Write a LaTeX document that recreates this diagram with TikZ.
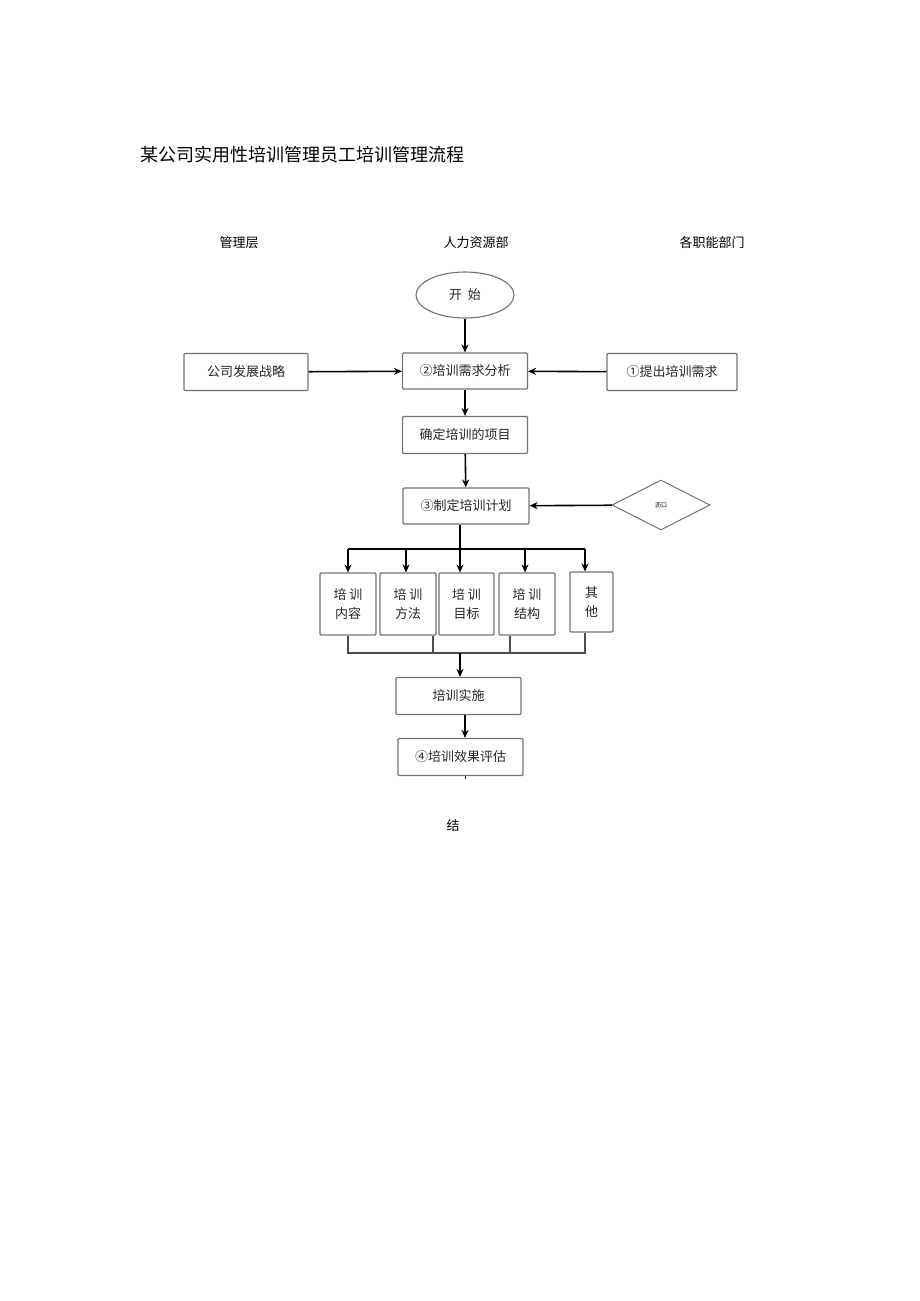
\documentclass[tikz,border=0pt]{standalone}
\usepackage{fontspec}
\setmainfont{Noto Sans CJK SC}
\usetikzlibrary{shapes.geometric,arrows.meta}
\begin{document}
\begin{tikzpicture}[x=1pt,y=-1pt,
  bx/.style={draw=black!55,line width=1.1pt,rounded corners=1pt,inner sep=0pt,font=\fontsize{13}{15}\selectfont,text=black!85},
  ar/.style={line width=1.6pt,-{Stealth[length=8pt,width=7pt]}},
  ln/.style={line width=1.6pt},
  lb/.style={font=\fontsize{13}{15}\selectfont}]
\useasboundingbox (0,0) rectangle (920,1301);
\node[anchor=west,font=\fontsize{18}{20}\selectfont] (title) at (137,155) {某公司实用性培训管理员工培训管理流程};
\node[lb] (l1) at (239,243) {管理层};
\node[lb] (l2) at (476,243) {人力资源部};
\node[lb] (l3) at (712,243) {各职能部门};
\node[bx,ellipse,minimum width=98pt,minimum height=46pt] (start) at (465,295) {开\ \ 始};
\node[bx,minimum width=124pt,minimum height=37pt] (gs) at (246,372) {公司发展战略};
\node[bx,minimum width=125pt,minimum height=36pt] (xq) at (465,371) {②培训需求分析};
\node[bx,minimum width=130pt,minimum height=37pt] (tc) at (672,372) {①提出培训需求};
\node[bx,minimum width=125pt,minimum height=37pt] (qd) at (465,435) {确定培训的项目};
\node[bx,minimum width=126pt,minimum height=36pt] (jh) at (466,506) {③制定培训计划};
\node[draw=black!55,line width=1pt,diamond,aspect=2,minimum width=98pt,minimum height=50pt,inner sep=0pt,font=\fontsize{6}{7}\selectfont] (dm) at (661,505) {沥口};
\node[bx,minimum width=56pt,minimum height=62pt,align=center] (b1) at (348,604) {培\ 训\\[4pt]内容};
\node[bx,minimum width=56pt,minimum height=62pt,align=center] (b2) at (408,604) {培\ 训\\[4pt]方法};
\node[bx,minimum width=55pt,minimum height=62pt,align=center] (b3) at (466.5,604) {培\ 训\\[4pt]目标};
\node[bx,minimum width=56pt,minimum height=62pt,align=center] (b4) at (527,604) {培\ 训\\[4pt]结构};
\node[bx,minimum width=43pt,minimum height=60pt,align=center] (b5) at (591.5,602) {其\\[4pt]他};
\node[bx,minimum width=125pt,minimum height=37pt] (ss) at (458.5,696) {培训实施};
\node[bx,minimum width=125pt,minimum height=37pt] (pg) at (460.5,757) {④培训效果评估};
\node[lb] (end) at (453,826) {结};
\coordinate (sp) at (460,549);
\coordinate (jn) at (460,653);
\draw[ar] (start) -- (xq);
\draw[ar] (gs) -- (xq);
\draw[ar] (tc) -- (xq);
\draw[ar] (xq) -- (qd);
\draw[ar] (qd) -- (jh);
\draw[ar] (dm) -- (jh);
\draw[ln] (jh.south -| sp) -- (sp);
\draw[ln] (348,549) -- (585,549);
\draw[ar] (348,549) -- (b1.north -| 348,0);
\draw[ar] (406,549) -- (b2.north -| 406,0);
\draw[ar] (sp) -- (b3.north -| sp);
\draw[ar] (525,549) -- (b4.north -| 525,0);
\draw[ar] (585,549) -- (b5.north -| 585,0);
\draw[line width=1.1pt,black!70] (b1.south -| 348,0) -- (348,653) -- (585,653) -- (b5.south -| 585,0);
\draw[line width=1.1pt,black!70] (b2.south -| 433,0) -- (433,653);
\draw[line width=1.1pt,black!70] (b4.south -| 510,0) -- (510,653);
\draw[ar] (jn) -- (ss.north -| jn);
\draw[ar] (ss.south -| 465,0) -- (pg.north -| 465,0);
\draw[line width=1pt] (pg.south -| 465,0) -- ++(0,3);
\end{tikzpicture}
\end{document}
